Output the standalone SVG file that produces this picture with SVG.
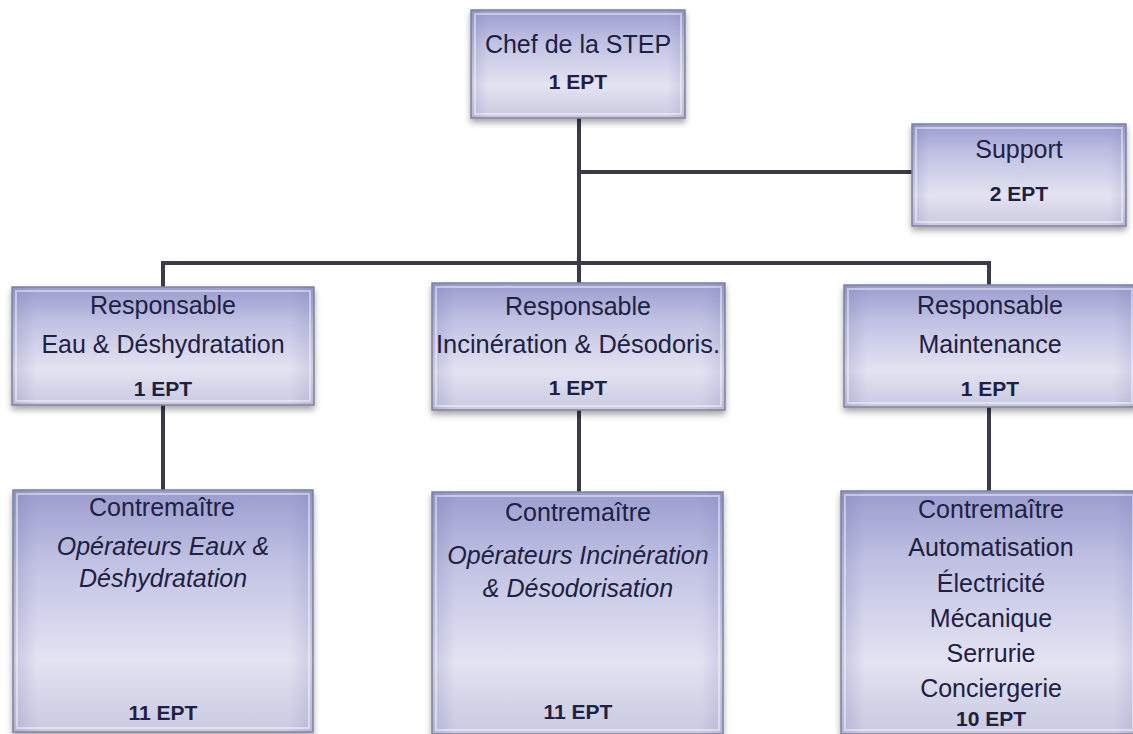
<svg xmlns="http://www.w3.org/2000/svg" width="1133" height="734" viewBox="0 0 1133 734">
<defs>
<linearGradient id="fill" x1="0" y1="0" x2="0" y2="1">
<stop offset="0" stop-color="#9a9ccf"/>
<stop offset="0.3" stop-color="#c1c2e3"/>
<stop offset="0.7" stop-color="#e3e3f2"/>
<stop offset="1" stop-color="#c9c9e1"/>
</linearGradient>
<linearGradient id="side" x1="0" y1="0" x2="1" y2="0">
<stop offset="0" stop-color="#6e70a8" stop-opacity="0.25"/>
<stop offset="0.08" stop-color="#6e70a8" stop-opacity="0"/>
<stop offset="0.92" stop-color="#6e70a8" stop-opacity="0"/>
<stop offset="1" stop-color="#6e70a8" stop-opacity="0.2"/>
</linearGradient>
<filter id="sh" x="-10%" y="-10%" width="120%" height="130%">
<feGaussianBlur in="SourceAlpha" stdDeviation="3"/>
<feOffset dx="0" dy="4"/>
<feComponentTransfer><feFuncA type="linear" slope="0.35"/></feComponentTransfer>
<feMerge><feMergeNode/><feMergeNode in="SourceGraphic"/></feMerge>
</filter>
</defs>
<style>
.box{fill:url(#fill);stroke:#80829a;stroke-width:1.5;filter:url(#sh)}
.sd{fill:url(#side);stroke:none}
.bev{fill:none;stroke:#ffffff;stroke-opacity:0.45;stroke-width:2}
.t{font-family:"Liberation Sans",Arial,sans-serif;font-size:25px;fill:#1e2142;text-anchor:middle}
.i{font-style:italic}
.b{font-weight:bold;font-size:21px}
.ln{fill:none;stroke:#3b3a4c;stroke-width:4}
</style>
<rect width="1133" height="734" fill="#ffffff"/>
<g id="connectors">
<path class="ln" d="M579 118 V283"/>
<path class="ln" d="M579 172 H912"/>
<path class="ln" d="M163 288 V263 H989 V285"/>
<path class="ln" d="M163 405 V490"/>
<path class="ln" d="M579 410 V492"/>
<path class="ln" d="M989 407 V492"/>
</g>
<g id="chef">
<rect class="box" x="471" y="10" width="214" height="108"/>
<rect class="sd" x="471" y="10" width="214" height="108"/>
<rect class="bev" x="475" y="14" width="206" height="100"/>
<text class="t" x="578" y="53">Chef de la STEP</text>
<text class="t b" x="578" y="89">1 EPT</text>
</g>
<g id="support">
<rect class="box" x="912" y="124" width="214" height="102"/>
<rect class="sd" x="912" y="124" width="214" height="102"/>
<rect class="bev" x="916" y="128" width="206" height="94"/>
<text class="t" x="1019" y="158">Support</text>
<text class="t b" x="1019" y="201">2 EPT</text>
</g>
<g id="resp-eau">
<rect class="box" x="12" y="287" width="302" height="118"/>
<rect class="sd" x="12" y="287" width="302" height="118"/>
<rect class="bev" x="16" y="291" width="294" height="110"/>
<text class="t" x="163" y="314">Responsable</text>
<text class="t" x="163" y="353">Eau &amp; Déshydratation</text>
<text class="t b" x="163" y="396">1 EPT</text>
</g>
<g id="resp-incineration">
<rect class="box" x="432" y="283" width="293" height="127"/>
<rect class="sd" x="432" y="283" width="293" height="127"/>
<rect class="bev" x="436" y="287" width="285" height="119"/>
<text class="t" x="578" y="315">Responsable</text>
<text class="t" x="578" y="353" textLength="284" lengthAdjust="spacingAndGlyphs">Incinération &amp; Désodoris.</text>
<text class="t b" x="578" y="395">1 EPT</text>
</g>
<g id="resp-maintenance">
<rect class="box" x="844" y="285" width="292" height="122"/>
<rect class="sd" x="844" y="285" width="292" height="122"/>
<rect class="bev" x="848" y="289" width="284" height="114"/>
<text class="t" x="990" y="314">Responsable</text>
<text class="t" x="990" y="353">Maintenance</text>
<text class="t b" x="990" y="396">1 EPT</text>
</g>
<g id="contre-eau">
<rect class="box" x="13" y="490" width="300" height="242"/>
<rect class="sd" x="13" y="490" width="300" height="242"/>
<rect class="bev" x="17" y="494" width="292" height="234"/>
<text class="t" x="162" y="516">Contremaître</text>
<text class="t i" x="163" y="555">Opérateurs Eaux &amp;</text>
<text class="t i" x="163" y="587">Déshydratation</text>
<text class="t b" x="163" y="720">11 EPT</text>
</g>
<g id="contre-incineration">
<rect class="box" x="432" y="492" width="291" height="242"/>
<rect class="sd" x="432" y="492" width="291" height="242"/>
<rect class="bev" x="436" y="496" width="283" height="234"/>
<text class="t" x="578" y="521">Contremaître</text>
<text class="t i" x="578" y="564">Opérateurs Incinération</text>
<text class="t i" x="578" y="597">&amp; Désodorisation</text>
<text class="t b" x="578" y="719">11 EPT</text>
</g>
<g id="contre-maintenance">
<rect class="box" x="841" y="491" width="296" height="243"/>
<rect class="sd" x="841" y="491" width="296" height="243"/>
<rect class="bev" x="845" y="495" width="288" height="235"/>
<text class="t" x="991" y="518">Contremaître</text>
<text class="t" x="991" y="556">Automatisation</text>
<text class="t" x="991" y="592">Électricité</text>
<text class="t" x="991" y="627">Mécanique</text>
<text class="t" x="991" y="662">Serrurie</text>
<text class="t" x="991" y="697">Conciergerie</text>
<text class="t b" x="991" y="726">10 EPT</text>
</g>
</svg>
